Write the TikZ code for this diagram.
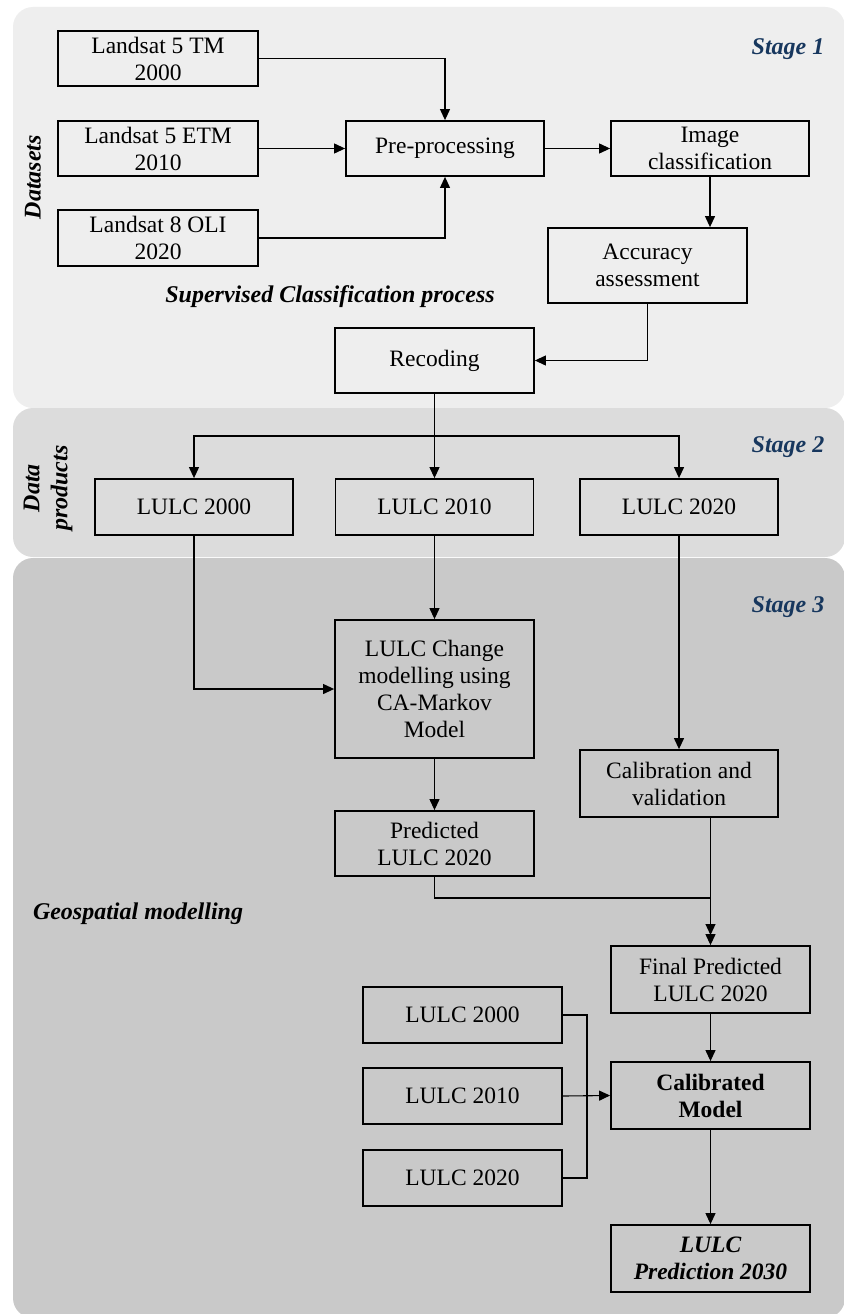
\documentclass[tikz,border=0pt]{standalone}
\usepackage{fontspec}
\setmainfont{Liberation Serif}
\usetikzlibrary{arrows.meta}
\definecolor{pone}{HTML}{EEEEEE}
\definecolor{ptwo}{HTML}{DCDCDC}
\definecolor{pthree}{HTML}{C9C9C9}
\definecolor{stageblue}{HTML}{17375E}
\tikzset{
  box/.style={draw=black, line width=1.8pt, align=center, inner sep=2pt,
    font=\fontsize{23.5}{27}\selectfont},
  conn/.style={line width=1.1pt},
  arr/.style={conn, -{Triangle[length=11pt,width=10pt]}},
  panel/.style={rounded corners=20pt},
  stagelbl/.style={font=\fontsize{24}{27}\selectfont\bfseries\itshape, text=stageblue},
  sidelbl/.style={font=\fontsize{24}{28}\selectfont\bfseries\itshape, align=center},
}
\begin{document}
\begin{tikzpicture}[x=1pt,y=-1pt]
\useasboundingbox (0,0) rectangle (843,1314);
\fill[white] (0,0) rectangle (843,1314);
% panels
\fill[pone, panel] (13,7) rectangle (845,408);
\fill[ptwo, panel] (13,408) rectangle (845,557);
\fill[pthree, panel] (13,558) rectangle (845,1318);

% stage 1
\node[box, minimum width=200pt, minimum height=55pt] (tm) at (158,58.5) {Landsat 5 TM\\2000};
\node[box, minimum width=200pt, minimum height=55pt] (etm) at (158,148.5) {Landsat 5 ETM\\2010};
\node[box, minimum width=200pt, minimum height=56pt] (oli) at (158,238) {Landsat 8 OLI\\2020};
\node[box, minimum width=198pt, minimum height=55pt] (pre) at (445,148.5) {Pre-processing};
\node[box, minimum width=198pt, minimum height=55pt] (imgc) at (710,148.5) {Image\\classification};
\node[box, minimum width=199pt, minimum height=75pt] (acc) at (647.5,265.5) {Accuracy\\assessment};
\node[box, minimum width=199pt, minimum height=65pt] (rec) at (434.5,360.5) {Recoding};

\node[stagelbl] (s1) at (788,49) {Stage 1};
\node[sidelbl, rotate=90] (ds) at (33,177) {Datasets};
\node[sidelbl] (scp) at (330,297) {Supervised Classification process};

\draw[arr] (tm.east) -| (pre.north);
\draw[arr] (etm.east) -- (pre.west);
\draw[arr] (oli.east) -| (pre.south);
\draw[arr] (pre.east) -- (imgc.west);
\draw[arr] (imgc.south) -- (imgc.south |- acc.north);
\draw[arr] (acc.south) |- (rec.east);

% stage 2
\node[box, minimum width=198pt, minimum height=56pt] (l00) at (194,507) {LULC 2000};
\node[box, minimum width=198pt, minimum height=56pt] (l10) at (434.5,507) {LULC 2010};
\node[box, minimum width=198pt, minimum height=56pt] (l20) at (679,507) {LULC 2020};
\node[stagelbl] (s2) at (788,447) {Stage 2};
\node[sidelbl, rotate=90] (dp) at (48,488) {Data\\products};

\coordinate (split) at (434.5,436);
\draw[conn] (rec.south) -- (split);
\draw[arr] (split) -| (l00.north);
\draw[arr] (split) -- (l10.north);
\draw[arr] (split) -| (l20.north);

% stage 3
\node[box, minimum width=199pt, minimum height=138pt] (chg) at (434.5,689) {LULC Change\\modelling using\\CA-Markov\\Model};
\node[box, minimum width=198pt, minimum height=67pt] (cal) at (679,783.5) {Calibration and\\validation};
\node[box, minimum width=199pt, minimum height=65pt] (pred) at (434.5,843.5) {Predicted\\LULC 2020};
\node[box, minimum width=199pt, minimum height=67pt] (fin) at (710.5,979.5) {Final Predicted\\LULC 2020};
\node[box, minimum width=199pt, minimum height=67pt] (cm) at (710.5,1095.5) {\bfseries Calibrated\\\bfseries Model};
\node[box, minimum width=199pt, minimum height=56pt] (b00) at (462.5,1015) {LULC 2000};
\node[box, minimum width=199pt, minimum height=56pt] (b10) at (462.5,1096) {LULC 2010};
\node[box, minimum width=199pt, minimum height=56pt] (b20) at (462.5,1178) {LULC 2020};
\node[box, minimum width=199pt, minimum height=67pt] (out) at (710.5,1258.5) {\bfseries\itshape LULC\\\bfseries\itshape Prediction 2030};
\node[stagelbl] (s3) at (788,607) {Stage 3};
\node[sidelbl] (geo) at (138,914) {Geospatial modelling};

\draw[arr] (l00.south) |- (chg.west);
\draw[arr] (l10.south) -- (chg.north);
\draw[arr] (l20.south) -- (cal.north);
\draw[arr] (chg.south) -- (pred.north);
\coordinate (join) at (710.5,898);
\coordinate (tipb) at (710.5,935);
\draw[arr] (pred.south) |- (join) -- (tipb);
\draw[arr] (fin.north |- cal.south) -- (fin.north);
\draw[arr] (fin.south) -- (cm.north);
\coordinate (brk) at (587,1096);
\draw[conn] (b00.east) -| (brk) |- (b20.east);
\draw[arr] (b10.east) -- (cm.west);
\draw[arr] (cm.south) -- (out.north);
\end{tikzpicture}
\end{document}
